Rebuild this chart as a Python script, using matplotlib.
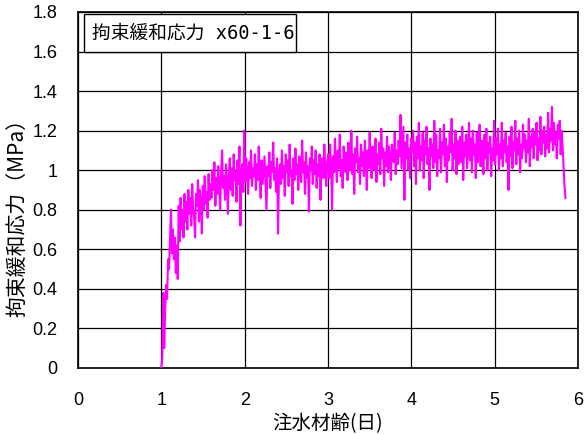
import numpy as np
import matplotlib
matplotlib.use('Agg')
import matplotlib.pyplot as plt
from matplotlib.patches import Rectangle

plt.rcParams['font.family'] = ['Noto Sans CJK JP', 'DejaVu Sans']

title_text = '拘束緩和応力 x60-1-6'
x_label = '注水材齢(日)'
y_label = '拘束緩和応力（MPa）'

t_start, t_end = 1.0, 5.85
stress = [
    # 1.0 - 1.2
    0.00, 0.05, 0.38, 0.10, 0.30, 0.42, 0.35, 0.55, 0.50, 0.65, 0.80, 0.58,
    0.70, 0.55, 0.66, 0.48, 0.62, 0.45,
    # 1.2 - 1.6
    0.82, 0.64, 0.86, 0.70, 0.80, 0.66, 0.88, 0.74, 0.84, 0.70,
    0.90, 0.78, 0.86, 0.72, 0.93, 0.80, 0.76, 0.66, 0.88, 0.82,
    0.95, 0.74, 0.90, 0.84, 0.68, 0.92, 0.80, 0.97, 0.83, 0.89,
    0.76, 0.98, 0.85, 0.93,
    # 1.6 - 2.0
    0.86, 1.00, 0.90, 1.04, 0.82, 0.96, 0.88, 1.02, 0.93, 0.80,
    0.99, 1.10, 0.91, 0.97, 0.85, 1.03, 0.94, 0.78, 0.98, 1.06,
    0.90, 1.01, 0.87, 1.08, 0.95, 0.99, 0.84, 1.05, 0.93, 1.12,
    0.72, 0.98, 1.03, 0.89, 1.20,
    # 2.0 - 3.0
    0.94, 1.06, 0.99, 0.88, 1.04, 0.96, 1.10, 0.92, 1.01, 0.97,
    1.08, 0.90, 1.03, 0.95, 1.12, 0.98, 0.86, 1.05, 0.93, 1.00,
    1.07, 0.94, 0.80, 1.02, 0.97, 1.09, 0.91, 1.04, 0.99, 1.14,
    0.95, 1.01, 0.89, 1.06, 0.68, 0.98, 1.03, 0.93, 1.10, 0.96,
    1.02, 0.87, 1.08, 0.99, 1.05, 0.92, 1.13, 0.97, 1.00, 0.83,
    1.06, 0.95, 1.11, 0.98, 1.03, 0.90, 1.07, 1.01, 0.94, 1.15,
    0.99, 1.04, 0.88, 1.09, 0.96, 1.02, 0.79, 1.06, 1.00, 1.12,
    0.93, 1.05, 0.98, 1.10, 0.91, 1.03, 0.97, 1.08, 0.85, 1.01,
    1.06, 0.96, 1.13, 1.00, 0.92, 1.04,
    # 3.0 - 4.0
    1.08, 0.96, 1.13, 1.02, 0.80, 1.07, 0.99, 1.16, 1.04, 0.94,
    1.10, 1.01, 1.18, 0.97, 1.05, 0.91, 1.12, 1.03, 0.99, 1.09,
    0.95, 1.14, 1.06, 1.00, 1.20, 0.98, 1.08, 0.88, 1.11, 1.04,
    1.17, 0.99, 1.06, 0.93, 1.13, 1.02, 1.09, 0.97, 1.15, 1.05,
    0.90, 1.10, 1.01, 1.19, 1.04, 0.96, 1.12, 1.07, 1.00, 1.16,
    0.94, 1.08, 1.03, 1.14, 0.98, 1.21, 1.06, 1.11, 0.92, 1.09,
    1.02, 1.17, 0.99, 1.12, 1.05, 0.95, 1.13, 1.06, 1.04, 1.19,
    0.98, 1.10, 1.03, 1.15, 1.07, 1.28, 1.01, 1.12, 1.22, 0.85,
    1.14, 1.06, 1.18, 1.00, 1.11, 0.96, 1.16,
    # 4.0 - 5.0
    1.09, 1.20, 1.02, 1.14, 0.93, 1.17, 1.06, 1.24, 1.00, 1.12,
    1.05, 1.19, 0.96, 1.15, 1.08, 1.22, 1.03, 1.11, 0.90, 1.16,
    1.07, 1.13, 1.01, 1.25, 1.04, 1.18, 0.97, 1.10, 1.06, 1.21,
    0.99, 1.14, 1.08, 1.23, 1.02, 1.16, 0.94, 1.12, 1.05, 1.19,
    1.09, 1.26, 1.00, 1.13, 1.06, 1.20, 0.98, 1.15, 1.03, 1.11,
    1.17, 1.04, 1.22, 0.95, 1.14, 1.07, 1.18, 1.01, 1.10, 1.24,
    1.05, 1.16, 0.99, 1.20, 1.08, 1.13, 0.96, 1.19, 1.04, 1.12,
    1.23, 1.02, 1.15, 1.07, 0.98, 1.18, 1.06, 1.21, 1.00, 1.14,
    1.09, 1.17, 0.97, 1.11, 1.05, 1.25,
    # 5.0 - 5.85
    1.03, 1.16, 1.08, 1.21, 1.00, 1.13, 1.06, 1.24, 1.02, 1.15,
    1.09, 1.19, 1.04, 1.12, 0.90, 1.17, 1.07, 1.22, 1.01, 1.14,
    1.10, 1.25, 1.03, 1.16, 1.08, 1.20, 0.99, 1.13, 1.06, 1.23,
    1.11, 1.18, 1.04, 1.15, 1.09, 1.26, 1.02, 1.17, 1.12, 1.21,
    1.06, 1.19, 1.13, 1.24, 1.05, 1.16, 1.10, 1.27, 1.08, 1.20,
    1.14, 1.22, 1.07, 1.18, 1.11, 1.29, 1.09, 1.21, 1.15, 1.32,
    1.10, 1.24, 1.13, 1.19, 1.06, 1.23, 1.16, 1.25, 1.08, 1.20,
    1.12, 1.02, 0.92, 0.86,
]
days = np.linspace(t_start, t_end, len(stress))

x_ticks = [0, 1, 2, 3, 4, 5, 6]
y_ticks = [0, 0.2, 0.4, 0.6, 0.8, 1, 1.2, 1.4, 1.6, 1.8]
y_tick_labels = ['0', '0.2', '0.4', '0.6', '0.8', '1', '1.2', '1.4', '1.6', '1.8']

fig = plt.figure(figsize=(5.86, 4.34), dpi=100)
ax = fig.add_axes([0.1331, 0.1521, 0.8532, 0.8203])

ax.plot(days, stress, color='#ff00ff', lw=1.5, zorder=3)

ax.set_xlim(0, 6)
ax.set_ylim(0, 1.8)
ax.set_xticks(x_ticks)
ax.set_yticks(y_ticks)
ax.set_yticklabels(y_tick_labels)
ax.grid(True, color='black', lw=0.9)
ax.tick_params(direction='in', length=0, labelsize=13)
ax.tick_params(axis='x', pad=17)
ax.tick_params(axis='y', pad=15)
for lab in ax.get_xticklabels() + ax.get_yticklabels():
    lab.set_family(['Liberation Sans', 'DejaVu Sans'])
for s in ax.spines.values():
    s.set_linewidth(1.2)

ax.set_xlabel(x_label, fontsize=14, labelpad=3)
ax.set_ylabel(y_label, fontsize=15)
ax.yaxis.set_label_coords(-0.100, 0.438)

# title box in the upper left corner
ax.add_patch(Rectangle((0.012, 0.888), 0.424, 0.106, transform=ax.transAxes,
                       fc='white', ec='black', lw=1, zorder=5))
ax.text(0.028, 0.941, title_text, transform=ax.transAxes, fontsize=13.5,
        family=['DejaVu Sans Mono', 'Noto Sans CJK JP'],
        va='center', ha='left', zorder=6)

fig.savefig('out.png', dpi=100)
